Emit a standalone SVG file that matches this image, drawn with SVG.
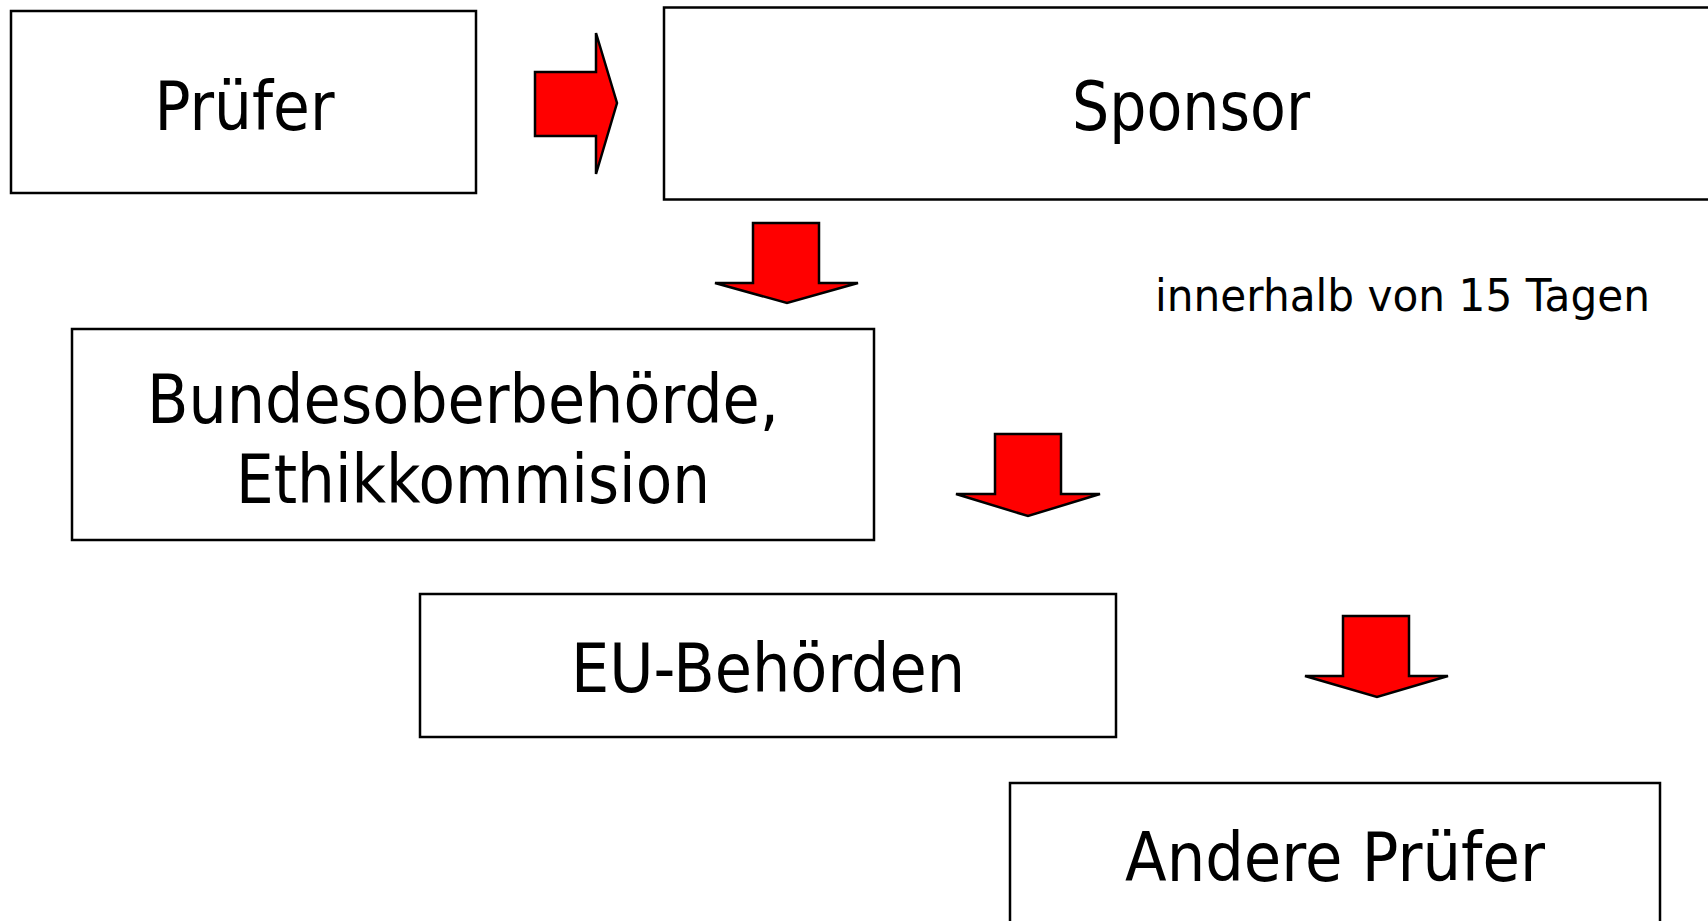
<svg xmlns="http://www.w3.org/2000/svg" width="1708" height="921" viewBox="0 0 1708 921">
<style>
.box{fill:#fff;stroke:#000;stroke-width:2.5}
.arr{fill:#f00;stroke:#000;stroke-width:2.5;stroke-linejoin:miter}
.t{font-family:"DejaVu Sans","Liberation Sans",sans-serif;font-size:67px;fill:#000;text-anchor:middle}
.s{font-family:"DejaVu Sans","Liberation Sans",sans-serif;font-size:45px;fill:#000}
</style>
<rect width="1708" height="921" fill="#fff"/>
<g id="pruefer">
<rect class="box" x="11" y="11" width="465" height="182"/>
<text class="t" x="244.5" y="130" textLength="180" lengthAdjust="spacingAndGlyphs">Prüfer</text>
</g>
<g id="sponsor">
<rect class="box" x="664" y="7.5" width="1060" height="192"/>
<text class="t" x="1191" y="130" textLength="238" lengthAdjust="spacingAndGlyphs">Sponsor</text>
</g>
<g id="bundesoberbehoerde">
<rect class="box" x="72" y="329" width="802" height="211"/>
<text class="t" x="463" y="423" textLength="632" lengthAdjust="spacingAndGlyphs">Bundesoberbehörde,</text>
<text class="t" x="473" y="503" textLength="474" lengthAdjust="spacingAndGlyphs">Ethikkommision</text>
</g>
<g id="eu-behoerden">
<rect class="box" x="420" y="594" width="696" height="143"/>
<text class="t" x="768" y="692" textLength="394" lengthAdjust="spacingAndGlyphs">EU-Behörden</text>
</g>
<g id="andere-pruefer">
<rect class="box" x="1010" y="783" width="650" height="160"/>
<text class="t" x="1335" y="881" textLength="420" lengthAdjust="spacingAndGlyphs">Andere Prüfer</text>
</g>
<g id="label">
<text class="s" x="1155" y="311" textLength="495" lengthAdjust="spacingAndGlyphs">innerhalb von 15 Tagen</text>
</g>
<g id="connectors">
<polygon class="arr" points="535,72 596,72 596,33 617,103 596,174 596,136 535,136"/>
<polygon class="arr" points="753,223 819,223 819,283 858,283 787,303 715,283 753,283"/>
<polygon class="arr" points="995,434 1061,434 1061,494 1100,494 1028,516 956,494 995,494"/>
<polygon class="arr" points="1343,616 1409,616 1409,676 1448,676 1377,697 1305,676 1343,676"/>
</g>
</svg>
